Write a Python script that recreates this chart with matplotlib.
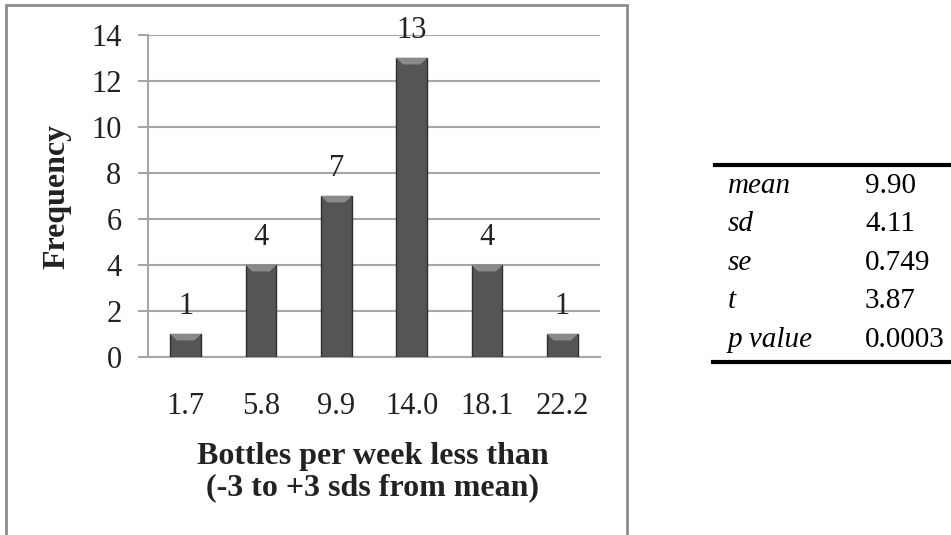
import matplotlib.pyplot as plt
from matplotlib.patches import Rectangle, Polygon
from matplotlib.lines import Line2D

# histogram of bottles per week
bins = ["1.7", "5.8", "9.9", "14.0", "18.1", "22.2"]
counts = [1, 4, 7, 13, 4, 1]

# summary statistics shown next to the chart
stat_names = ["mean", "sd", "se", "t", "p value"]
stat_values = ["9.90", "4.11", "0.749", "3.87", "0.0003"]

W, H = 951, 535
fig = plt.figure(figsize=(W / 100, H / 100), dpi=100)
fig.patch.set_facecolor("white")

serif = "Liberation Serif"

# chart frame
fig.patches.append(Rectangle((6 / W, -0.01), (627 - 6) / W, 1 - 5 / H + 0.01,
                             transform=fig.transFigure, fill=False,
                             edgecolor="#8c8c8c", linewidth=2))

ax = fig.add_axes([148 / W, 1 - 357 / H, (600 - 148) / W, (357 - 35) / H])
ax.set_facecolor("none")

x = list(range(len(bins)))
bw = 0.41
bars = ax.bar(x, counts, width=bw, color="#555555", edgecolor="#2e2e2e",
              linewidth=1.0, zorder=3)

# bevelled top on each bar
for b in bars:
    x0, w, h = b.get_x(), b.get_width(), b.get_height()
    bev = 0.28
    top = Polygon([(x0, h), (x0 + w, h), (x0 + w * 0.78, h - bev),
                   (x0 + w * 0.22, h - bev)], closed=True,
                  facecolor="#8a8a8a", edgecolor="none", zorder=4)
    ax.add_patch(top)

for xi, c in zip(x, counts):
    ax.annotate(str(c), (xi, c), xytext=(0, 20), textcoords="offset points",
                ha="center", va="center", fontsize=22, family=serif,
                color="#222222")

ax.set_xlim(-0.5, len(bins) - 0.5)
ax.set_ylim(0, 14)
ax.set_yticks(range(0, 15, 2))
ax.set_xticks(x)
ax.set_xticklabels(bins)
ax.tick_params(axis="x", length=0, pad=25)
ax.tick_params(axis="y", length=7, color="#a6a6a6", width=1.5, pad=12)
for lbl in ax.get_xticklabels() + ax.get_yticklabels():
    lbl.set_family(serif)
    lbl.set_fontsize(22)
    lbl.set_color("#222222")

ax.grid(axis="y", color="#a6a6a6", linewidth=1.5, zorder=0)
for s in ["top", "right"]:
    ax.spines[s].set_visible(False)
ax.spines["bottom"].set_color("#a6a6a6")
ax.spines["bottom"].set_linewidth(1.5)
ax.spines["left"].set_color("#a6a6a6")
ax.spines["left"].set_linewidth(1.5)

fig.text(57 / W, 1 - 196 / H, "Frequency", rotation=90, ha="center",
         va="center", fontsize=23, fontweight="bold", family=serif,
         color="#222222")
fig.text(373 / W, 1 - 472 / H, "Bottles per week less than\n(-3 to +3 sds from mean)",
         ha="center", va="center", fontsize=23, fontweight="bold",
         family=serif, color="#222222", linespacing=1.1)

# statistics table
fig.lines.append(Line2D([715 / W, 1.0], [1 - 165 / H] * 2,
                        transform=fig.transFigure, color="black", linewidth=3))
fig.lines.append(Line2D([713 / W, 1.0], [1 - 362 / H] * 2,
                        transform=fig.transFigure, color="black", linewidth=3))
for i, (n, v) in enumerate(zip(stat_names, stat_values)):
    yy = 1 - (186 + i * 38.5) / H
    fig.text(728 / W, yy, n, ha="left", va="center", fontsize=21,
             style="italic", family=serif)
    fig.text(865 / W, yy, v, ha="left", va="center", fontsize=21,
             family=serif)

fig.savefig("out.png", dpi=100)
